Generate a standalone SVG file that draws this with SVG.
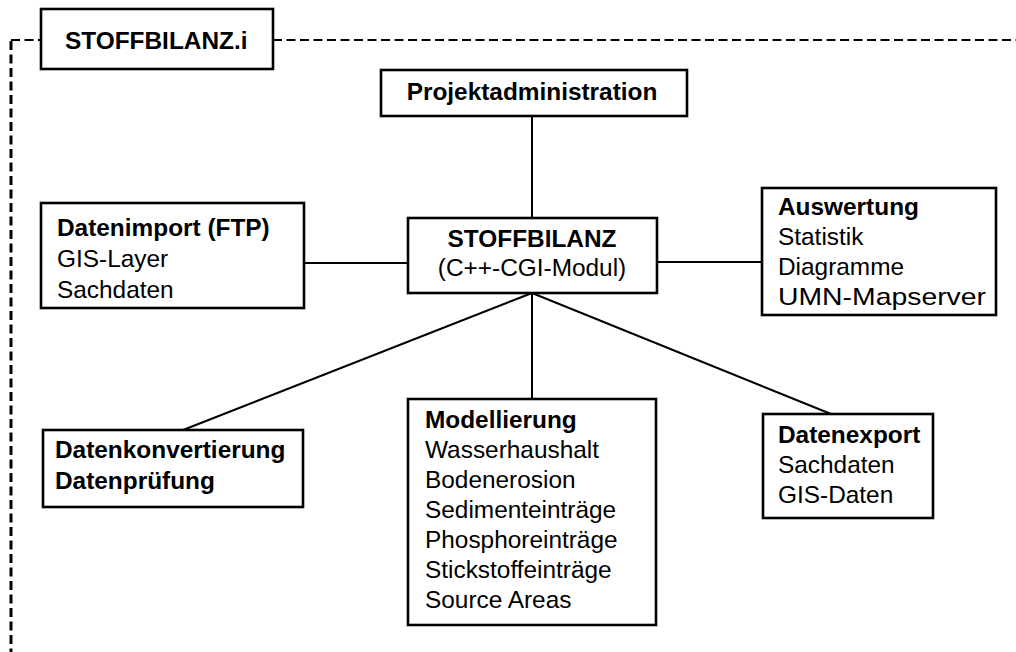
<svg xmlns="http://www.w3.org/2000/svg" width="1016" height="652" viewBox="0 0 1016 652">
<style>
.box{fill:#fff;stroke:#000;stroke-width:2.6}
.t{font-family:"Liberation Sans",Arial,sans-serif;font-size:24.4px;fill:#000}
.b{font-weight:bold}
.c{stroke:#000;stroke-width:2;fill:none}
.d{stroke:#000;fill:none;stroke-dasharray:9 4.5}
</style>
<rect width="1016" height="652" fill="#fff"/>
<g id="frame">
<path class="d" d="M11,40 H41 M273,40 H1016" stroke-width="2"/>
<path class="d" d="M11,41 V652" stroke-width="3" stroke-dasharray="8 5.5"/>
</g>
<g id="connectors">
<line class="c" x1="532" y1="116" x2="532" y2="218"/>
<line class="c" x1="304" y1="263" x2="408" y2="263"/>
<line class="c" x1="657" y1="262" x2="762" y2="262"/>
<line class="c" x1="532" y1="293" x2="532" y2="399"/>
<line class="c" x1="532" y1="293" x2="183" y2="430"/>
<line class="c" x1="532" y1="293" x2="831" y2="414"/>
</g>
<g id="title">
<rect class="box" x="41" y="9" width="232" height="60"/>
<text class="t b" x="65" y="49">STOFFBILANZ.i</text>
</g>
<g id="projektadministration">
<rect class="box" x="381" y="70" width="306" height="46"/>
<text class="t b" x="532" y="100" text-anchor="middle">Projektadministration</text>
</g>
<g id="stoffbilanz">
<rect class="box" x="408" y="218" width="249" height="75"/>
<text class="t b" x="532" y="247" text-anchor="middle">STOFFBILANZ</text>
<text class="t" x="532" y="276" text-anchor="middle">(C++-CGI-Modul)</text>
</g>
<g id="datenimport">
<rect class="box" x="41" y="203" width="263" height="105"/>
<text class="t" x="57" y="236"><tspan class="b">Datenimport (FTP)</tspan><tspan x="57" dy="31">GIS-Layer</tspan><tspan x="57" dy="31">Sachdaten</tspan></text>
</g>
<g id="auswertung">
<rect class="box" x="762" y="188" width="234" height="127"/>
<text class="t" x="778" y="215"><tspan class="b">Auswertung</tspan><tspan x="778" dy="30">Statistik</tspan><tspan x="778" dy="30">Diagramme</tspan></text>
<text class="t" x="778" y="305" textLength="208" lengthAdjust="spacingAndGlyphs">UMN-Mapserver</text>
</g>
<g id="datenkonvertierung">
<rect class="box" x="43" y="430" width="260" height="77"/>
<text class="t b" x="55" y="458"><tspan>Datenkonvertierung</tspan><tspan x="55" dy="31">Datenprüfung</tspan></text>
</g>
<g id="modellierung">
<rect class="box" x="408" y="399" width="248" height="226"/>
<text class="t" x="425" y="428"><tspan class="b">Modellierung</tspan><tspan x="425" dy="30">Wasserhaushalt</tspan><tspan x="425" dy="30">Bodenerosion</tspan><tspan x="425" dy="30">Sedimenteinträge</tspan><tspan x="425" dy="30">Phosphoreinträge</tspan><tspan x="425" dy="30">Stickstoffeinträge</tspan><tspan x="425" dy="30">Source Areas</tspan></text>
</g>
<g id="datenexport">
<rect class="box" x="763" y="414" width="170" height="104"/>
<text class="t" x="778" y="443"><tspan class="b">Datenexport</tspan><tspan x="778" dy="30">Sachdaten</tspan><tspan x="778" dy="30">GIS-Daten</tspan></text>
</g>
</svg>
